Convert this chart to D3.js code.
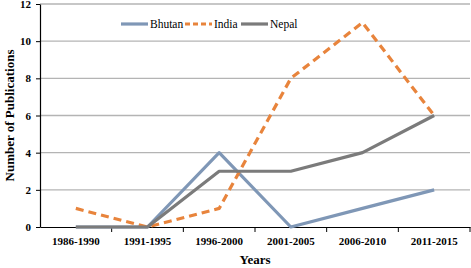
<!DOCTYPE html>
<html>
<head>
<meta charset="utf-8">
<script src="https://cdn.jsdelivr.net/npm/d3@7"></script>
<style>
  body { margin: 0; background: #fff; }
  svg text { font-family: "Liberation Serif", "Times New Roman", serif !important; }
</style>
</head>
<body>
<svg id="chart" width="471" height="268"></svg>
<script>
const years = ['1986-1990', '1991-1995', '1996-2000', '2001-2005', '2006-2010', '2011-2015'];
const bhutan = [0, 0, 4, 0, 1, 2];
const india = [1, 0, 1, 8, 11, 6];
const nepal = [0, 0, 3, 3, 4, 6];
const yTicks = [0, 2, 4, 6, 8, 10, 12];

const margin = { top: 4, right: 1, bottom: 41, left: 40 };
const totalWidth = 471;
const totalHeight = 268;
const width = totalWidth - margin.left - margin.right;
const height = totalHeight - margin.top - margin.bottom;

const svg = d3.select('#chart');
const g = svg.append('g').attr('transform', `translate(${margin.left}, ${margin.top})`);

const xScale = d3.scaleBand(years, [0, width]);
const yScale = d3.scaleLinear([0, 12], [height, 0]);

/* grid lines */
g.append('g')
  .selectAll('line')
  .data(yTicks.filter(d => d > 0))
  .enter()
  .append('line')
  .attr('x1', 0)
  .attr('x2', width)
  .attr('y1', d => yScale(d))
  .attr('y2', d => yScale(d))
  .attr('stroke', '#b4b4b4')
  .attr('stroke-width', 1.4);

/* left axis */
const leftAxis = d3.axisLeft(yScale).tickValues(yTicks).tickSize(4).tickSizeOuter(0);
const left = g.append('g').call(leftAxis);
left.select('.domain').attr('stroke', '#000').attr('stroke-width', 1.2);
left.selectAll('.tick line').attr('stroke', '#000');
left.selectAll('.tick text')
  .attr('font-size', 11)
  .attr('font-weight', 'bold')
  .attr('x', -9)
  .attr('fill', '#000');

/* bottom axis */
const bottomAxis = d3.axisBottom(xScale).tickSize(0).tickSizeOuter(0);
const bottom = g.append('g').attr('transform', `translate(0, ${height})`).call(bottomAxis);
bottom.select('.domain').attr('stroke', '#000').attr('stroke-width', 1.2);
bottom.selectAll('.tick text')
  .attr('font-size', 11)
  .attr('font-weight', 'bold')
  .attr('y', 10)
  .attr('fill', '#000');
/* category separator ticks */
bottom.selectAll('.sep')
  .data(years)
  .enter()
  .append('line')
  .attr('x1', d => xScale(d) + xScale.bandwidth())
  .attr('x2', d => xScale(d) + xScale.bandwidth())
  .attr('y1', 0)
  .attr('y2', 5)
  .attr('stroke', '#000');

/* series */
const series = [
  { name: 'Bhutan', values: bhutan, color: '#7f97b6', dash: null },
  { name: 'India', values: india, color: '#e8843c', dash: '8,5' },
  { name: 'Nepal', values: nepal, color: '#7b7b7b', dash: null }
];

series.forEach(function (s) {
  const line = d3.line()
    .x((d, i) => xScale(years[i]) + xScale.bandwidth() / 2)
    .y(d => yScale(d));
  g.append('path')
    .attr('fill', 'none')
    .attr('stroke', s.color)
    .attr('stroke-width', 3.2)
    .attr('stroke-linejoin', 'round')
    .attr('stroke-dasharray', s.dash)
    .attr('d', line(s.values));
});

/* legend */
const legendX = [121, 185, 241];
const legend = svg.append('g').attr('transform', 'translate(0, 24)');
series.forEach(function (s, i) {
  legend.append('line')
    .attr('x1', legendX[i])
    .attr('x2', legendX[i] + 27)
    .attr('y1', 0)
    .attr('y2', 0)
    .attr('stroke', s.color)
    .attr('stroke-width', 3.2)
    .attr('stroke-dasharray', s.dash ? '5,3' : null);
  legend.append('text')
    .attr('x', legendX[i] + 29)
    .attr('y', 4)
    .attr('font-size', 11.5)
    .attr('fill', '#000')
    .text(s.name);
});

/* axis titles */
svg.append('text')
  .attr('transform', `translate(14, ${margin.top + height / 2}) rotate(-90)`)
  .attr('text-anchor', 'middle')
  .attr('font-size', 13)
  .attr('font-weight', 'bold')
  .text('Number of Publications');

svg.append('text')
  .attr('x', margin.left + width / 2)
  .attr('y', 264)
  .attr('text-anchor', 'middle')
  .attr('font-size', 13)
  .attr('font-weight', 'bold')
  .text('Years');
</script>
</body>
</html>
